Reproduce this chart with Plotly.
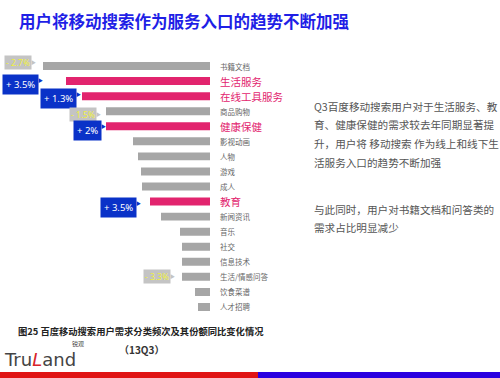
import plotly.graph_objects as go

W, H = 500, 378

# ---------------- data ----------------
categories = ["书籍文档", "生活服务", "在线工具服务", "商品购物", "健康保健", "影视动画", "人物",
              "游戏", "成人", "教育", "新闻资讯", "音乐", "社交", "信息技术", "生活/情感问答",
              "饮食菜谱", "人才招聘"]
shares = [16.7, 14.4, 12.8, 10.4, 10.4, 7.7, 7.2, 6.9, 6.8, 6.0, 4.9, 3.0, 2.8, 2.8, 2.8, 1.5, 1.2]
highlight = ["生活服务", "在线工具服务", "健康保健", "教育"]
change_cats = ["书籍文档", "生活服务", "在线工具服务", "商品购物", "健康保健", "教育", "生活/情感问答"]
change_vals = [-2.7, 3.5, 1.3, -1.5, 2.0, 3.5, -3.3]
change_labels = ["- 2.7%", "+ 3.5%", "+ 1.3%", "- 1.5%", "+ 2%", "+ 3.5%", "- 3.3%"]

title = "用户将移动搜索作为服务入口的趋势不断加强"
para_lines = ["Q3百度移动搜索用户对于生活服务、教", "育、健康保健的需求较去年同期显著提",
              "升，用户将 移动搜索 作为线上和线下生", "活服务入口的趋势不断加强"]
para2_lines = ["与此同时，用户对书籍文档和问答类的", "需求占比明显减少"]
caption = "图25 百度移动搜索用户需求分类频次及其份额同比变化情况"
caption2 = "（13Q3）"

# ---------------- styles ----------------
FONT = "Noto Sans CJK SC"
PINK = "#e2246e"
GRAY = "#a6a6a6"
BLUE_BOX = "#0a32c8"
GRAY_BOX = "#c4c4c4"
# per-callout pixel gap from bar start and vertical offset (px, +down)
callout_gap = [11, 27, 5, 9, 4, 13, 11]
callout_dy = [-3.5, 3, 2, 3, 4, 6, 0]

def px(x):
    return x / W

def py(y):
    return 1 - y / H

colors = [PINK if c in highlight else GRAY for c in categories]

fig = go.Figure(go.Bar(
    x=shares, y=categories, orientation="h",
    marker=dict(color=colors, line=dict(width=0)),
    hoverinfo="skip",
))

row_top, row_bot = 58.5, 314.5
fig.update_layout(
    width=W, height=H,
    margin=dict(l=0, r=0, t=0, b=0),
    paper_bgcolor="white", plot_bgcolor="white",
    showlegend=False, bargap=0.47,
    xaxis=dict(domain=[0, px(210)], range=[21.0, 0], visible=False, fixedrange=True),
    yaxis=dict(domain=[py(row_bot), py(row_top)], categoryorder="array",
               categoryarray=categories, range=[len(categories) - 0.5, -0.5],
               visible=False, fixedrange=True),
    font=dict(family=FONT),
)

ann = []
# category labels
for c in categories:
    hl = c in highlight
    ann.append(dict(xref="paper", yref="y", x=px(218), y=c, xanchor="left", yanchor="middle",
                    text=c, showarrow=False,
                    font=dict(family=FONT, size=10.5 if hl else 7.5, color=PINK if hl else "#666666")))

# change callouts
for c, v, lab, g, dy in zip(change_cats, change_vals, change_labels, callout_gap, callout_dy):
    val = shares[categories.index(c)]
    pos = v > 0
    ann.append(dict(xref="x", yref="y", x=val, y=c, xanchor="right", yanchor="middle",
                    xshift=-g, yshift=-dy, text=lab, showarrow=False,
                    bgcolor=BLUE_BOX if pos else GRAY_BOX,
                    borderpad=3 if pos else 1,
                    font=dict(family="Noto Sans", size=9.5 if pos else 8.5,
                              color="white" if pos else "#f0f040")))
    ann.append(dict(xref="x", yref="y", x=val, y=c, xanchor="right", yanchor="middle",
                    xshift=-g + 6, yshift=-dy + (5 if pos else 1), text="▶", showarrow=False,
                    font=dict(size=5, color=BLUE_BOX if pos else GRAY_BOX)))

# title
ann.append(dict(xref="paper", yref="paper", x=px(17), y=py(21.5), xanchor="left", yanchor="middle",
                text="<b>" + title + "</b>", showarrow=False,
                font=dict(family=FONT, size=16.5, color="#1f1fe6")))

# right paragraph
for i, line in enumerate(para_lines):
    ann.append(dict(xref="paper", yref="paper", x=px(312), y=py(106 + i * 18.7), xanchor="left",
                    yanchor="middle", text=line, showarrow=False,
                    font=dict(family=FONT, size=10.6, color="#555555")))
for i, line in enumerate(para2_lines):
    ann.append(dict(xref="paper", yref="paper", x=px(312), y=py(209 + i * 18.5), xanchor="left",
                    yanchor="middle", text=line, showarrow=False,
                    font=dict(family=FONT, size=10.6, color="#555555")))

# caption
ann.append(dict(xref="paper", yref="paper", x=px(16), y=py(331), xanchor="left", yanchor="middle",
                text="<b>" + caption + "</b>", showarrow=False,
                font=dict(family=FONT, size=9.3, color="#222222")))
ann.append(dict(xref="paper", yref="paper", x=px(141), y=py(349), xanchor="center", yanchor="middle",
                text="<b>" + caption2 + "</b>", showarrow=False,
                font=dict(family=FONT, size=10, color="#333333")))

# logo
ann.append(dict(xref="paper", yref="paper", x=px(2), y=py(359), xanchor="left", yanchor="middle",
                text="Tru<span style='color:#d8232a'><i>L</i></span>and", showarrow=False,
                font=dict(family="DejaVu Sans", size=18, color="#444444")))
ann.append(dict(xref="paper", yref="paper", x=px(70), y=py(343), xanchor="left", yanchor="middle",
                text="锐观", showarrow=False,
                font=dict(family=FONT, size=6, color="#444444")))

fig.update_layout(annotations=ann)

# bottom strip
fig.add_shape(type="rect", xref="paper", yref="paper", x0=0, x1=px(258), y0=0, y1=py(372),
              fillcolor="#e01414", line=dict(width=0), layer="above")
fig.add_shape(type="rect", xref="paper", yref="paper", x0=px(258), x1=1, y0=0, y1=py(372),
              fillcolor="#2a00e0", line=dict(width=0), layer="above")

fig.write_html("out.html")
